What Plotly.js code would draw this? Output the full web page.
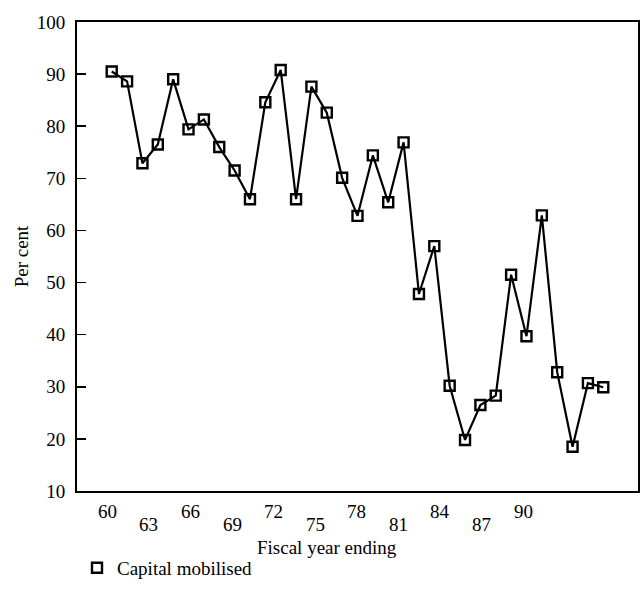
<!DOCTYPE html>
<html>
<head>
<meta charset="utf-8">
<script src="https://cdn.plot.ly/plotly-3.0.1.min.js"></script>
<style>html,body{margin:0;padding:0;background:#fff;}#chart{width:643px;height:594px;}</style>
</head>
<body>
<div id="chart"></div>
<script>
var fiscalYears = [60,61,62,63,64,65,66,67,68,69,70,71,72,73,74,75,76,77,78,79,80,81,82,83,84,85,86,87,88,89,90,91,92];
var capitalMobilised = [90.5,88.6,72.9,76.5,89.0,79.4,81.3,76.0,71.5,66.0,84.6,90.8,66.0,87.6,82.6,70.1,62.8,74.4,65.4,76.9,47.8,57.0,30.2,19.8,26.5,28.3,51.5,39.7,62.9,32.8,18.5,30.7,29.9];
var xTickLabels = ["60","63","66","69","72","75","78","81","84","87","90"];
var yTickValues = [10,20,30,40,50,60,70,80,90,100];

var font = {family: "Liberation Serif, Times New Roman, serif", size: 19, color: "#000"};

var markerStyle = {symbol: "square-open", size: 10, color: "#000", line: {width: 2.4, color: "#000"}};

var traces = [
  {
    x: fiscalYears, y: capitalMobilised, type: "scatter", mode: "lines+markers",
    line: {color: "#000", width: 2.2},
    marker: markerStyle,
    showlegend: false, hoverinfo: "x+y"
  },
  {
    x: [null], y: [null], type: "scatter", mode: "markers", name: "Capital mobilised",
    marker: markerStyle,
    showlegend: true
  }
];

var annotations = [];
xTickLabels.forEach(function (t, i) {
  annotations.push({
    text: t, x: 59.7 + 2.71 * i, xref: "x", y: (i % 2 === 0) ? -0.0437 : -0.0714, yref: "paper",
    xanchor: "center", yanchor: "middle", showarrow: false, font: font
  });
});
annotations.push({
  text: "Fiscal year ending", x: 0.4456, xref: "paper", y: -0.1215, yref: "paper",
  xanchor: "center", yanchor: "middle", showarrow: false, font: font
});

var layout = {
  width: 643, height: 594,
  margin: {l: 77, r: 5, t: 22, b: 103},
  paper_bgcolor: "#fff", plot_bgcolor: "#fff",
  font: font,
  xaxis: {
    range: [57.74, 94.26], showgrid: false, zeroline: false,
    showline: true, mirror: true, linecolor: "#000", linewidth: 2,
    ticks: "", showticklabels: false
  },
  yaxis: {
    range: [10, 100], tickvals: yTickValues, showgrid: false, zeroline: false,
    showline: true, mirror: true, linecolor: "#000", linewidth: 2,
    ticks: "inside", ticklen: 9, tickwidth: 1.5, tickcolor: "#000",
    tickfont: font, ticklabelstandoff: 6,
    title: {text: "Per cent", font: font, standoff: 3}
  },
  showlegend: true,
  legend: {x: 0.0, xanchor: "left", y: -0.164, yanchor: "middle", font: font, bgcolor: "rgba(0,0,0,0)", itemwidth: 30},
  annotations: annotations
};

Plotly.newPlot("chart", traces, layout, {displayModeBar: false, staticPlot: true});
</script>
</body>
</html>
